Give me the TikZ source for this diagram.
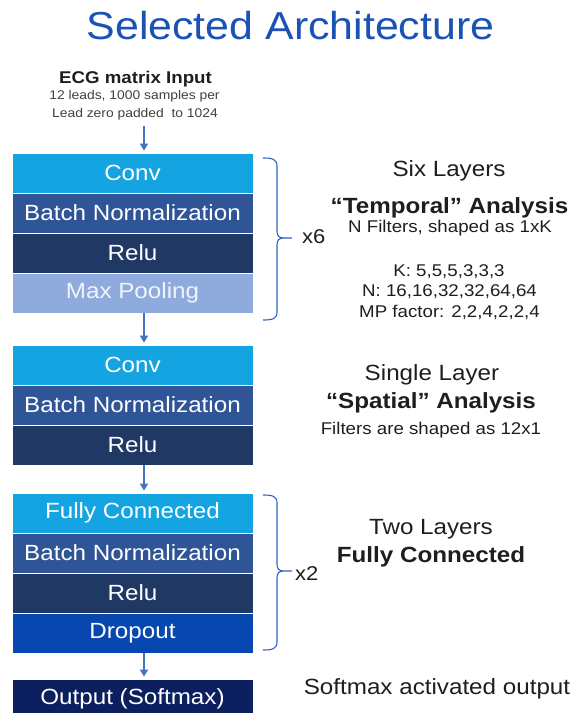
\documentclass[tikz,border=0pt]{standalone}
\usepackage{fontspec}
\setmainfont[FakeStretch=1.1]{Liberation Sans}
\usetikzlibrary{arrows.meta, calc}
\definecolor{archtitle}{HTML}{1B52B5}
\definecolor{archconv}{HTML}{14A4E2}
\definecolor{archbn}{HTML}{2F5597}
\definecolor{archrelu}{HTML}{203864}
\definecolor{archpool}{HTML}{8FAADC}
\definecolor{archdrop}{HTML}{0847B0}
\definecolor{archout}{HTML}{0C205F}
\definecolor{archarrow}{HTML}{4472C4}
\definecolor{archbrace}{HTML}{2F62C2}
\definecolor{archtext}{HTML}{1E1E1E}

\begin{document}
\begin{tikzpicture}[x=1pt, y=-1pt, font=\fontsize{22}{26}\selectfont,
    layer/.style={fill=#1, draw=white, line width=0.8pt, text=white,
                  minimum width=241pt, minimum height=40pt, inner sep=0pt},
    note/.style={anchor=base, text=archtext, inner sep=0pt},
    flow/.style={archarrow, line width=1.6pt, -{Triangle[length=7pt, width=8pt]},
                 shorten <=6pt, shorten >=2pt}]
    \useasboundingbox (0,0) rectangle (576,713);

    % title and input
    \node[note, text=archtitle, font=\fontsize{39}{44}\selectfont] (title) at (290.5,39) {Selected Architecture};
    \node[note, font=\bfseries\fontsize{17}{20}\selectfont] (ecg) at (135.5,83) {ECG matrix Input};
    \node[note, text=archtext!85, font=\fontsize{12.6}{15}\selectfont] (ecga) at (134.5,99) {12 leads, 1000 samples per};
    \node[note, text=archtext!85, font=\fontsize{12.6}{15}\selectfont] (ecgb) at (135,117) {Lead zero padded\ \ to 1024};
    \coordinate (ax) at (144,0);

    % layer blocks
    \foreach \y/\c/\t/\n in {173/archconv/Conv/ta, 213/archbn/Batch Normalization/tb,
                             253/archrelu/Relu/tc, 293/archpool/Max Pooling/td,
                             365/archconv/Conv/sa, 405/archbn/Batch Normalization/sb,
                             445/archrelu/Relu/sc,
                             513/archconv/Fully Connected/fa, 553/archbn/Batch Normalization/fb,
                             593/archrelu/Relu/fc, 633/archdrop/Dropout/fd,
                             699/archout/Output (Softmax)/out}{
      \node[layer=\c] (\n) at (132.5,\y) {\t};
    }
    \node[layer=archpool, text=white!88!archpool] at (td) {Max Pooling};

    % arrows
    \draw[flow] (ecgb.south -| ax) -- (ta.north -| ax);
    \draw[flow, shorten <=0pt] (td.south -| ax) -- (sa.north -| ax);
    \draw[flow, shorten <=0pt] (sc.south -| ax) -- (fa.north -| ax);
    \draw[flow, shorten <=0pt] (fd.south -| ax) -- (out.north -| ax);

    % braces
    \foreach \t/\b/\m in {158/320/238, 495/650/571}{
      \draw[archbrace, line width=1.1pt]
        (263,\t) .. controls (272,\t) and (277,\t+1) .. (277,\t+8) -- (277,\m-7)
        .. controls (277,\m-2) and (279,\m) .. (284,\m) -- (292,\m)
        (284,\m) .. controls (279,\m) and (277,\m+2) .. (277,\m+7) -- (277,\b-8)
        .. controls (277,\b-1) and (272,\b) .. (263,\b);
    }
    \node[note, font=\fontsize{20}{24}\selectfont, anchor=base west] (rep6) at (302,243) {x6};
    \node[note, font=\fontsize{20}{24}\selectfont, anchor=base west] (rep2) at (295,580) {x2};

    % temporal notes
    \node[note] (six) at (449,176) {Six Layers};
    \node[note, font=\bfseries\fontsize{22}{26}\selectfont] (temp) at (449.5,213) {“Temporal” Analysis};
    \node[note, font=\fontsize{17}{20}\selectfont] (tfil) at (450,232) {N Filters, shaped as 1xK};
    \node[note, font=\fontsize{17}{20}\selectfont] (tk) at (449,276) {K: 5,5,5,3,3,3};
    \node[note, font=\fontsize{17}{20}\selectfont] (tn) at (449.5,296) {N: 16,16,32,32,64,64};
    \node[note, font=\fontsize{17}{20}\selectfont] (tmp) at (449.5,317) {MP factor: 2,2,4,2,2,4};

    % spatial notes
    \node[note] (single) at (432,380) {Single Layer};
    \node[note, font=\bfseries\fontsize{22}{26}\selectfont] (spat) at (431,408) {“Spatial” Analysis};
    \node[note, font=\fontsize{17}{20}\selectfont] (sfil) at (431,434) {Filters are shaped as 12x1};

    % dense notes
    \node[note] (two) at (431,534) {Two Layers};
    \node[note, font=\bfseries\fontsize{22}{26}\selectfont] (dense) at (431,562) {Fully Connected};
    \node[note] (soft) at (437,694) {Softmax activated output};
\end{tikzpicture}
\end{document}
